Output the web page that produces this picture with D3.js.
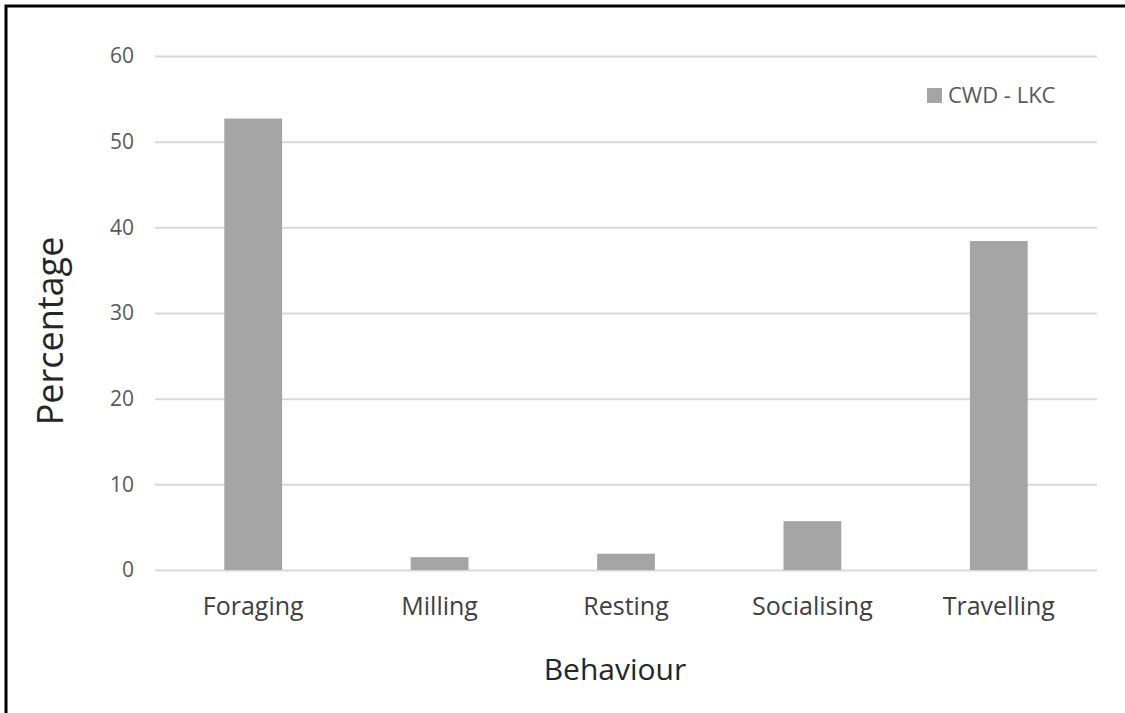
<!DOCTYPE html>
<html>
<head>
<meta charset="utf-8">
<script src="https://cdn.jsdelivr.net/npm/d3@7"></script>
<style>
  html, body { margin: 0; padding: 0; background: #fff; }
  svg { display: block; }
  text { font-family: "Open Sans", "Noto Sans", sans-serif; }
</style>
</head>
<body>
<svg id="chart" width="1125" height="713"></svg>
<script>
const categories = ["Foraging", "Milling", "Resting", "Socialising", "Travelling"];
const seriesName = "CWD - LKC";
const values = [52.7, 1.5, 1.9, 5.7, 38.4];
const yTicks = [0, 10, 20, 30, 40, 50, 60];
const xTitle = "Behaviour";
const yTitle = "Percentage";

const svg = d3.select("#chart");
const W = 1125, H = 713;
const plot = { left: 160, right: 1092, top: 56, bottom: 570 };

// frame (top and left edge of the figure border)
svg.append("path")
  .attr("d", `M6,${H} L6,6 L${W},6`)
  .attr("fill", "none").attr("stroke", "#000").attr("stroke-width", 3);

const x = d3.scaleBand().domain(categories)
  .range([plot.left, plot.right]).paddingInner(0.69).paddingOuter(0.345);
const y = d3.scaleLinear().domain([0, 60]).range([plot.bottom, plot.top]);

// gridlines
const yAxis = d3.axisLeft(y).tickValues(yTicks).tickSize(-(plot.right - plot.left + 10)).tickPadding(21);
const gy = svg.append("g").attr("transform", `translate(${plot.left - 5},0)`).call(yAxis);
gy.select(".domain").remove();
gy.selectAll(".tick line").attr("stroke", "#d9d9d9").attr("stroke-width", 2);
gy.selectAll(".tick text").attr("fill", "#595959").attr("font-size", 21)
  .attr("font-family", "'Open Sans', sans-serif");

// bars
svg.append("g").selectAll("rect").data(values).join("rect")
  .attr("x", (d, i) => x(categories[i]))
  .attr("y", d => y(d))
  .attr("width", x.bandwidth())
  .attr("height", d => y(0) - y(d))
  .attr("fill", "#a5a5a5");

// x axis labels
const xAxis = d3.axisBottom(x).tickSize(0).tickPadding(27);
const gx = svg.append("g").attr("transform", `translate(0,${plot.bottom})`).call(xAxis);
gx.select(".domain").remove();
gx.selectAll(".tick text").attr("fill", "#404040").attr("font-size", 25)
  .attr("font-family", "'Open Sans', sans-serif");

// axis titles
svg.append("text").attr("x", (plot.left + plot.right) / 2 - 11).attr("y", 680)
  .attr("text-anchor", "middle").attr("font-size", 30).attr("fill", "#262626").text(xTitle);
svg.append("text").attr("transform", `translate(63,${(237 + 425) / 2}) rotate(-90)`)
  .attr("text-anchor", "middle").attr("font-size", 36).attr("fill", "#262626").text(yTitle);

// legend
const lg = svg.append("g").attr("transform", "translate(927,88)");
lg.append("rect").attr("width", 15).attr("height", 15).attr("fill", "#a5a5a5");
lg.append("text").attr("x", 21).attr("y", 15).attr("font-size", 22).attr("fill", "#595959").text(seriesName);
</script>
</body>
</html>
